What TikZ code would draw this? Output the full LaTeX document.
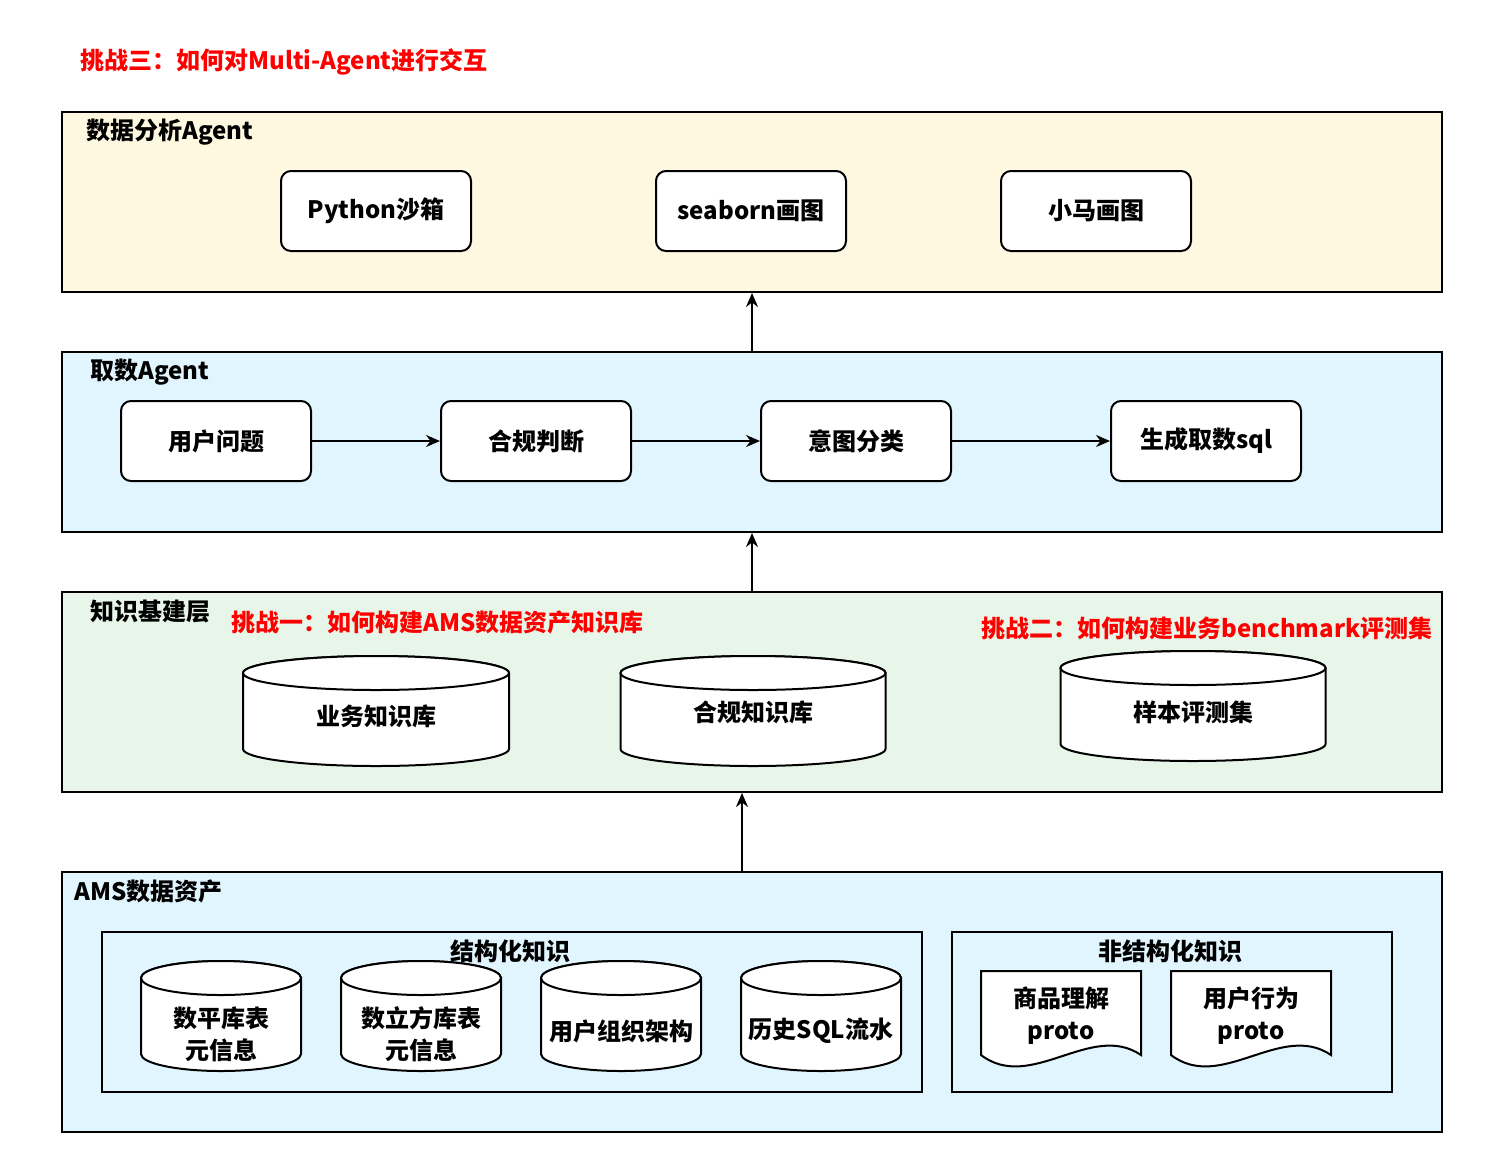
\documentclass[tikz,border=0pt]{standalone}
\usepackage{fontspec}
\setmainfont{Noto Sans CJK SC}
\usetikzlibrary{arrows.meta,positioning}

\definecolor{analysefill}{HTML}{FFF8E1}
\definecolor{fetchfill}{HTML}{E1F5FE}
\definecolor{kbfill}{HTML}{E8F5E9}
\definecolor{challenge}{HTML}{FF0000}

\tikzset{
  layer/.style={draw, line width=1pt, anchor=north west, inner sep=0pt,
    minimum width=690pt},
  group/.style={draw, line width=1pt, anchor=north west, inner sep=0pt},
  stepbox/.style={draw, line width=1pt, fill=white, rounded corners=5pt,
    minimum width=95pt, minimum height=40pt, font=\bfseries\fontsize{12}{15}\selectfont},
  title/.style={anchor=west, inner sep=0pt, font=\bfseries\fontsize{12}{15}\selectfont},
  redtitle/.style={title, text=challenge},
  celltext/.style={align=center, inner sep=0pt, font=\bfseries\fontsize{12}{16}\selectfont},
  shapeline/.style={draw, line width=1pt, fill=white},
  arr/.style={-{Stealth[length=7pt,width=6pt]}, line width=1pt},
}

% database cylinder: name, centre x, top y, width, height, text y, text
\newcommand{\dbcyl}[7]{%
  \filldraw[shapeline] (#2-#4/2,#3+17) -- (#2-#4/2,#3+#5-17)
    arc[start angle=180, end angle=0, x radius=#4/2, y radius=17]
    -- (#2+#4/2,#3+17)
    arc[start angle=0, end angle=-180, x radius=#4/2, y radius=17] -- cycle;
  \draw[shapeline] (#2,#3+17) ellipse[x radius=#4/2, y radius=17];
  \node[celltext] (#1) at (#2,#6) {#7};
}

% document with wavy bottom: name, left x, top y, text
\newcommand{\docsheet}[4]{%
  \filldraw[shapeline] (#2,#3+84) -- (#2,#3) -- (#2+160,#3) -- (#2+160,#3+84)
    .. controls (#2+110,#3+50) and (#2+50,#3+122) .. (#2,#3+84) -- cycle;
  \node[celltext, text depth=0pt] (#1) at (#2+80,#3+42) {#4};
}

\begin{document}
\begin{tikzpicture}[x=0.5pt, y=-0.5pt]
    \useasboundingbox (0,0) rectangle (1492,1162);

    % Challenge three
    \node[redtitle] (challengethree) at (80,62) {挑战三：如何对Multi-Agent进行交互};

    % Layer boxes
    \node[layer, fill=analysefill, minimum height=90pt] (analyse) at (61,111) {};
    \node[layer, fill=fetchfill, minimum height=90pt] (fetch) at (61,351) {};
    \node[layer, fill=kbfill, minimum height=100pt] (kb) at (61,591) {};
    \node[layer, fill=fetchfill, minimum height=130pt] (ams) at (61,871) {};

    % Layer titles
    \node[title] (analysetitle) at (86,132) {数据分析Agent};
    \node[title] (fetchtitle) at (90,372) {取数Agent};
    \node[title] (kbtitle) at (90,612) {知识基建层};
    \node[title] (amstitle) at (74,891) {AMS数据资产};

    % Data analysis agent
    \node[stepbox] (sandbox) at (376,211) {Python沙箱};
    \node[stepbox] (seaborn) at (751,211) {seaborn画图};
    \node[stepbox] (pony) at (1096,211) {小马画图};

    % Fetch agent
    \node[stepbox] (question) at (216,441) {用户问题};
    \node[stepbox] (compliance) at (536,441) {合规判断};
    \node[stepbox] (intent) at (856,441) {意图分类};
    \node[stepbox] (sqlgen) at (1206,441) {生成取数sql};
    \draw[arr] (question) -- (compliance);
    \draw[arr] (compliance) -- (intent);
    \draw[arr] (intent) -- (sqlgen);

    % Knowledge layer
    \node[redtitle] (challengeone) at (231,622) {挑战一：如何构建AMS数据资产知识库};
    \node[redtitle] (challengetwo) at (981,628) {挑战二：如何构建业务benchmark评测集};
    \dbcyl{bizkb}{376}{656}{266}{110}{716}{业务知识库}
    \dbcyl{compkb}{753}{656}{265}{110}{712}{合规知识库}
    \dbcyl{evalset}{1193}{651}{265}{110}{712}{样本评测集}

    % AMS data assets
    \node[group, minimum width=410pt, minimum height=80pt] (structured) at (101,931) {};
    \node[group, minimum width=220pt, minimum height=80pt] (unstructured) at (951,931) {};
    \node[celltext] (structuredtitle) at (510,951) {结构化知识};
    \node[celltext] (unstructuredtitle) at (1170,951) {非结构化知识};
    \dbcyl{flattable}{221}{961}{160}{110}{1034}{数平库表\\元信息}
    \dbcyl{cubetable}{421}{961}{160}{110}{1034}{数立方库表\\元信息}
    \dbcyl{orgchart}{621}{961}{160}{110}{1031}{用户组织架构}
    \dbcyl{sqlflow}{821}{961}{160}{110}{1031}{历史SQL流水}
    \docsheet{goodsproto}{981}{971}{商品理解\\proto}
    \docsheet{behaviourproto}{1171}{971}{用户行为\\proto}

    % Layer arrows
    \draw[arr] (fetch.north) -- (analyse.south);
    \draw[arr] (kb.north) -- (fetch.south);
    \draw[arr] ([xshift=-5pt]ams.north) -- ([xshift=-5pt]kb.south);
\end{tikzpicture}
\end{document}
